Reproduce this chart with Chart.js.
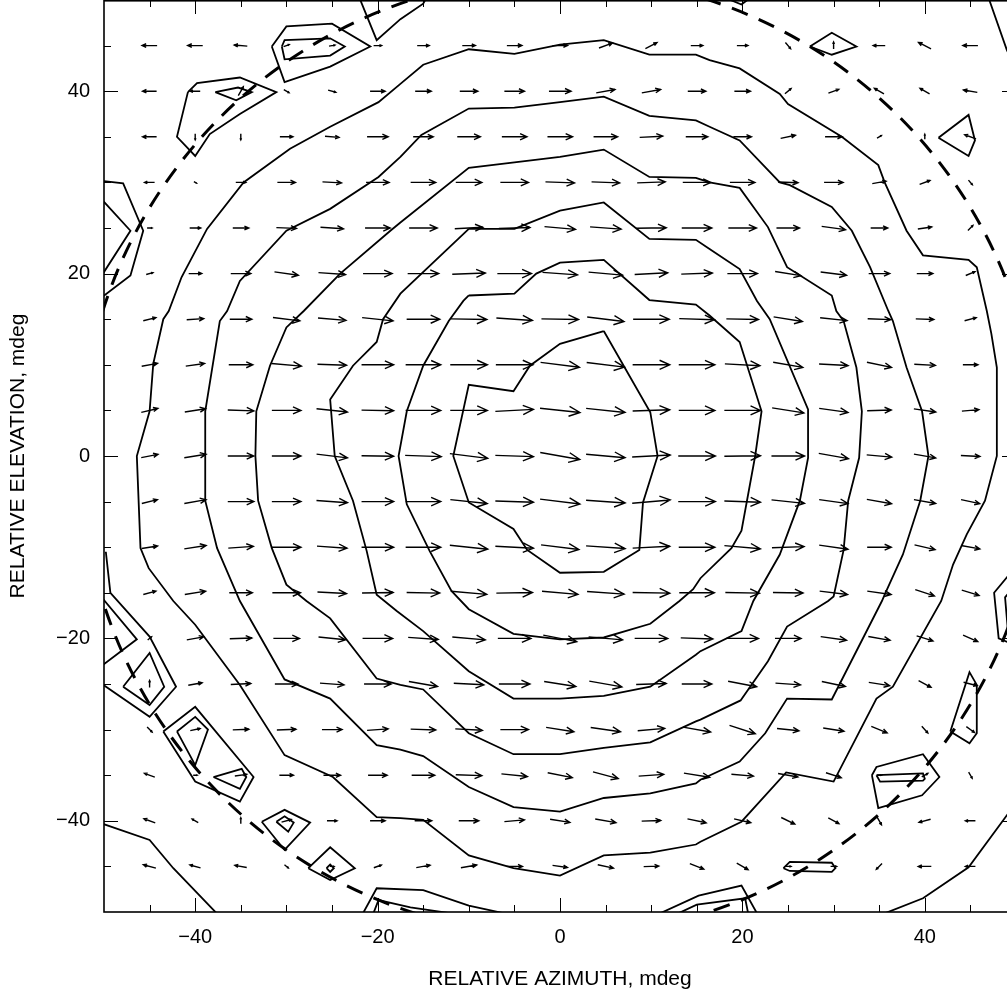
<!DOCTYPE html>
<html>
<head>
<meta charset="utf-8">
<script src="https://cdn.jsdelivr.net/npm/chart.js@4.4.0/dist/chart.umd.min.js"></script>
<style>
  html, body { margin: 0; padding: 0; background: #fff; overflow: hidden; }
  canvas { display: block; }
</style>
</head>
<body>
<canvas id="myChart" width="1016" height="991"></canvas>
<script>
// Axis tick labels and tick marks (mdeg)
var xTickLabels = [-40, -20, 0, 20, 40];
var yTickLabels = [-40, -20, 0, 20, 40];
var tickMarks = [-45, -40, -35, -30, -25, -20, -15, -10, -5, 0, 5, 10, 15, 20, 25, 30, 35, 40, 45];

// Arrow grid (azimuth columns, elevation rows from top to bottom)
var gridAz = [-45, -40, -35, -30, -25, -20, -15, -10, -5, 0, 5, 10, 15, 20, 25, 30, 35, 40, 45];
var gridEl = [45, 40, 35, 30, 25, 20, 15, 10, 5, 0, -5, -10, -15, -20, -25, -30, -35, -40, -45];

// Arrow magnitude (arbitrary units) for each row of gridEl
var arrowMag = [
  [15,15,13,6,6,8,12,13,15,15,14,13,12,11,8,7,12,14,15],
  [14,10,10,6,8,15,16,18,20,22,19,19,18,16,8,11,11,11,14],
  [14,6,6,13,14,21,20,23,25,25,24,23,22,18,15,17,5,5,12],
  [10,3,10,18,19,23,25,26,28,29,28,28,28,25,20,19,14,11,6],
  [5,11,16,20,23,25,28,28,31,31,31,30,30,28,23,24,17,14,7],
  [7,13,20,24,27,29,31,33,34,35,34,33,31,30,26,26,21,16,10],
  [13,17,22,27,28,31,33,36,36,37,37,36,35,32,29,27,23,18,12],
  [16,19,24,30,29,32,35,37,37,39,38,37,36,35,30,29,25,21,15],
  [17,21,26,29,31,32,35,37,38,40,39,37,36,36,32,29,24,22,17],
  [17,22,26,29,31,32,36,38,38,40,39,38,37,36,33,30,25,22,19],
  [16,22,26,29,31,32,35,37,38,40,39,38,37,36,33,29,25,22,19],
  [16,22,25,29,30,32,35,38,38,38,39,37,36,36,32,29,24,21,19],
  [13,21,23,28,29,31,33,36,36,36,37,37,35,34,30,28,24,20,18],
  [5,17,22,26,27,30,30,33,33,34,34,33,32,32,26,26,22,17,16],
  [7,14,20,23,24,27,29,30,31,32,33,30,30,29,25,24,21,14,14],
  [7,10,16,19,20,21,25,27,28,28,30,27,28,27,22,21,17,9,10],
  [11,4,12,14,17,19,23,26,26,25,26,25,26,22,20,16,4,7,7],
  [12,7,6,10,10,15,17,20,20,20,21,19,19,17,15,12,9,12,10],
  [13,11,12,5,4,8,14,16,16,15,16,15,15,13,6,6,8,13,10]
];

// Arrow direction (degrees, 0 = right, 90 = up) for each row of gridEl
var arrowDir = [
  [180,180,175,20,10,0,0,0,0,0,20,27,0,0,-50,90,180,153,180],
  [180,180,60,-30,-15,0,0,0,0,0,10,10,0,0,40,20,150,150,170],
  [180,-90,-90,0,-5,0,0,0,0,0,0,3,0,0,12,0,30,90,160],
  [180,-30,0,0,-3,0,0,0,0,-2,-2,2,0,0,-2,0,10,20,-50],
  [0,0,0,-2,-4,0,0,3,2,-5,-4,1,0,0,0,-8,0,8,45],
  [15,0,0,-8,-4,0,0,2,0,-4,-5,3,2,0,-9,-7,0,0,22],
  [14,4,0,-7,-5,-6,0,-1,-4,-1,-7,0,-2,-1,-9,-6,-2,-2,15],
  [10,8,0,-5,-2,0,0,0,0,-7,-7,0,0,-3,-10,-3,-12,-3,0],
  [13,9,-2,0,-6,-1,0,0,3,-6,-6,2,0,0,-9,-8,2,-8,5],
  [11,9,0,0,-7,-1,-2,-7,-2,-10,-5,3,0,1,0,-10,-5,-10,-3],
  [14,10,0,0,-4,0,0,-6,-2,-7,-4,5,0,-2,-6,-8,-10,-10,-12],
  [9,9,4,0,-4,0,0,-6,-3,-7,-4,3,0,-5,2,-8,0,-13,-10],
  [15,9,0,0,-3,1,-1,-5,1,-5,-4,-1,0,-1,-1,-7,-8,-18,-17],
  [40,10,2,0,-6,0,-4,-5,0,-11,-5,0,-2,0,0,-8,-10,-17,-24],
  [90,10,3,0,-4,0,-10,-3,0,-9,-10,2,0,-11,-4,-12,-9,-28,-14],
  [-45,12,2,2,0,4,-2,-3,0,-9,-8,5,-10,-18,-6,-9,-22,-48,-36],
  [160,0,8,0,0,0,0,-2,-6,-11,-15,4,-9,-5,-10,-18,0,30,-60],
  [160,150,90,15,0,0,0,0,5,-9,-10,2,-12,-13,-26,-28,-60,195,180],
  [165,165,170,-40,0,20,10,10,0,-8,-12,2,-22,-30,0,0,225,180,180]
];

// Main contour rings [azimuth, elevation]
var contour1 = [[4.8,13.7],[0,12.3],[-3.3,9.9],[-5.1,7.1],[-10,7.8],[-11.7,0],[-10,-5.1],[-5.1,-8],[-3.6,-10.3],[0,-12.8],[4.8,-12.7],[8.7,-10.3],[9.1,-5.1],[10.7,0],[9.9,4.8],[4.8,13.7]];
var contour2 = [[-10,17.6],[-5,17.8],[-2.6,20],[0,21.2],[4.8,21.5],[9.8,17.1],[14.9,16.6],[16.4,15.4],[19.7,12.5],[22.1,4.9],[21.4,0],[19.9,-8.2],[18.8,-10.1],[15.4,-13.4],[14.6,-14.6],[13.1,-15.9],[9.9,-18.4],[4.8,-19.9],[0,-20.1],[-5.1,-19.5],[-10,-16.8],[-11.9,-14.8],[-14.3,-10.4],[-16.8,-5.3],[-17.7,0],[-16.8,4.9],[-15,9.9],[-12.2,14.8],[-10.6,17],[-10,17.6]];
var contour3 = [[-10,24.9],[-5,24.9],[0,26.9],[4.8,27.8],[9.8,23.8],[14.9,23.7],[16.4,22.7],[19.7,20.5],[21.6,17],[23,15],[27.2,5.1],[27.2,-0.2],[26.3,-4.9],[24.1,-10.8],[21.2,-15.9],[19.9,-19.2],[15.4,-21.4],[14.9,-21.8],[9.9,-25.3],[4.8,-26.3],[0,-26.6],[-5.1,-26.6],[-10,-23.6],[-15,-19.2],[-17.9,-17],[-20.1,-15.2],[-21.2,-10.4],[-22.7,-4.9],[-24.7,0],[-25.2,6.2],[-22.7,9.9],[-20.1,12.5],[-19.4,15],[-17.5,17.8],[-10,24.9]];
var contour4 = [[-17.5,25.6],[-10,31.6],[-5,32.2],[0,32.8],[4.8,33.6],[9.8,30.6],[14.9,30.5],[16.4,30],[19.7,29.4],[22.8,25.1],[24.9,20.7],[29.8,17.6],[30.3,15.9],[31.1,14.8],[32.5,9.7],[33.1,4.9],[32.8,-0.2],[31.6,-4.9],[31.1,-10.3],[30,-15.4],[29.4,-15.9],[24.9,-18.7],[22.8,-22.5],[19.8,-26.8],[15.4,-28.9],[14.9,-29.1],[9.9,-31.4],[4.8,-32],[0,-32.7],[-5.1,-32.7],[-10,-30.4],[-15,-25.6],[-17.5,-25.1],[-20.1,-24.4],[-25.2,-17.8],[-27.8,-15.9],[-30,-14.1],[-31.6,-10.1],[-33.1,-4.9],[-33.4,0],[-33.3,4.9],[-31.8,9.9],[-30,14.1],[-28.1,15.9],[-24.1,20],[-18.6,24.7],[-17.5,25.6]];
var contour5 = [[-17.5,32.8],[-15.2,35.2],[-10,38.1],[-5,38.2],[0,38.8],[4.8,39.4],[9.8,37.3],[14.9,36.8],[16.4,36.1],[19.7,34.6],[24.1,30],[25.2,29.7],[29.8,27.3],[32,24.7],[34,20.7],[36,15.9],[36.5,14.8],[38,9.7],[39.7,4.9],[40.4,0],[39.5,-4.9],[37.6,-10.8],[35.6,-15.2],[35.3,-15.9],[29.8,-26.7],[24.9,-26.6],[22.5,-30.4],[19.7,-33.5],[15.4,-35.5],[14.9,-35.9],[9.9,-37],[4.8,-37.5],[0,-39],[-5.1,-38.5],[-10,-36.3],[-15,-32.9],[-17.5,-32.2],[-20.1,-31.7],[-25.2,-26.6],[-30.2,-24.5],[-35.1,-15.9],[-37.6,-10.1],[-38.9,-4.9],[-38.9,4.9],[-37.3,14.8],[-36.5,15.9],[-35.1,19.2],[-30,24.7],[-25.2,27.1],[-19.9,30.6],[-17.5,32.8]];
var contour6 = [[-17.5,40.8],[-15,42.9],[-10,44.6],[-5,44.1],[0,45.1],[4.8,45.6],[9.8,44],[14.9,44],[16.4,43.4],[19.7,42.5],[24.1,39.7],[25,38.6],[30.9,35],[34.9,31.9],[35.6,30],[38,24.7],[39.8,22],[44.8,21.5],[45.7,20.7],[46.8,15.9],[47.3,13.4],[47.9,9.7],[47.9,0],[46.6,-4.9],[44.6,-8.6],[43.1,-11.9],[41.8,-15.9],[36.5,-25.3],[34.7,-26.6],[30,-35.7],[24.8,-34.7],[19.9,-40.1],[15.4,-42.3],[14.9,-42.6],[9.9,-43.5],[4.8,-43.8],[0,-46],[-5.1,-45.2],[-10,-43.8],[-15,-39.9],[-17.5,-39.7],[-20.1,-39.6],[-24.9,-35.2],[-30.2,-32.8],[-35.1,-25.1],[-40,-18.5],[-42.4,-15.9],[-45.1,-12.3],[-46,-10.1],[-46.4,0],[-45,4.9],[-44.6,10.1],[-43.5,15],[-42.9,15.9],[-41.5,19.6],[-38.7,24.9],[-34.7,30],[-29.6,33.7],[-25.2,36.1],[-19.9,38.8],[-17.5,40.8]];

// Outer contour pieces and small islands near the edge of the beam
var outerTopLeft = [[-22.1,50.5],[-20.1,45.6],[-17.5,47.9],[-15,49.6],[-14.5,50.5]];
var outerTopRight = [[46.9,50.5],[49,44.5],[50.5,41.5]];
var outerBottomRight = [[34.7,-50.5],[39.8,-48.5],[44.8,-45.1],[49,-39.4],[50.5,-37.5]];
var outerBottomLeft = [[-50.5,-40.2],[-45,-42.1],[-42.4,-45.2],[-37.3,-50.5]];
var islandA = [[-31.6,44.9],[-30,47.1],[-25,47.4],[-20.8,44.9],[-25.2,42.7],[-30.2,41],[-31.6,44.9]];
var islandAin = [[-30.5,44.9],[-30.2,45.6],[-25.2,45.8],[-23.6,44.9],[-25.2,43.9],[-30.2,43.5],[-30.5,44.9]];
var islandB = [[-40.8,39.9],[-39.8,40.9],[-35.1,41.5],[-31.1,39.9],[-35.1,37.5],[-38.4,35.3],[-40,32.9],[-42,35],[-40.8,39.9]];
var islandBin = [[-37.8,39.9],[-35.3,40.4],[-33.8,39.9],[-35.5,39],[-37.8,39.9]];
var islandC = [[-50.5,30.2],[-47.9,29.9],[-45.7,24.7],[-47.1,19.8],[-50.5,17.2]];
var islandCin = [[-50.5,28.4],[-47.1,24.7],[-50.5,19.4]];
var islandD = [[27.4,44.9],[29.8,46.4],[32.5,44.9],[29.8,44],[27.4,44.9]];
var islandE = [[41.5,34.9],[44.8,37.4],[45.5,34.6],[44.8,32.9],[41.5,34.9]];
var islandF = [[17.5,50.5],[19.9,49.5],[21.2,50.5]];
var islandG = [[-49.8,-10.5],[-49.3,-15],[-45,-19.8],[-42.1,-25.3],[-45,-28.6],[-50.5,-24.8]];
var islandGin = [[-50.5,-15.2],[-46.4,-20.1],[-50.5,-23.2]];
var islandGin2 = [[-47.9,-25.3],[-45,-21.6],[-43.4,-25.3],[-45,-27.3],[-47.9,-25.3]];
var islandH = [[-43.5,-30.2],[-40,-27.5],[-33.6,-35.2],[-35.1,-37.9],[-40,-35.7],[-43.5,-30.2]];
var islandHin = [[-42,-30.2],[-40,-28.6],[-38.6,-30],[-40,-33.9],[-42,-30.2]];
var islandHin2 = [[-38,-35.2],[-34.9,-34.3],[-34.4,-35.2],[-35.1,-36.5],[-38,-35.2]];
var islandI = [[-32.7,-40.1],[-30.2,-38.8],[-27.4,-40.2],[-30.2,-43.2],[-32.7,-40.1]];
var islandIin = [[-31.1,-40.1],[-30.2,-39.5],[-29.2,-40.2],[-29.8,-41.2],[-31.1,-40.1]];
var islandJ = [[-27.6,-45.2],[-25.2,-42.9],[-22.5,-45.2],[-25.2,-46.5],[-27.6,-45.2]];
var islandJin = [[-25.6,-45.2],[-25.2,-44.8],[-24.8,-45.2],[-25.2,-45.6],[-25.6,-45.2]];
var islandK = [[-21.8,-50.5],[-20.1,-47.4],[-15,-47.6],[-10,-49.3],[-4.5,-50.5]];
var islandKin = [[-20.6,-50.5],[-19.9,-48.7],[-16.4,-49.5],[-9.5,-50.5]];
var islandL = [[10.2,-50.5],[15.2,-48.2],[19.9,-47.1],[21.8,-50.5]];
var islandLin = [[12.2,-50.5],[15,-49.2],[20.3,-48.5],[20.7,-50.5]];
var islandM = [[42.8,-30.2],[44.9,-23.7],[45.7,-25.1],[45.7,-30.4],[44.9,-31.5],[42.8,-30.2]];
var islandN = [[34.2,-35],[34.7,-34.1],[39.8,-32.7],[41.6,-35.2],[39.7,-37.2],[34.9,-38.6],[34.2,-35]];
var islandNin = [[34.7,-35],[39.8,-34.8],[40,-35.4],[39.8,-35.6],[35.1,-35.7],[34.7,-35]];
var islandO = [[24.5,-45.2],[25.2,-44.5],[29.8,-44.6],[30.2,-45.2],[29.8,-45.6],[25.2,-45.5],[24.5,-45.2]];
var islandP = [[50.5,-11.5],[47.6,-15],[48.1,-20],[50.5,-21]];
var islandPin = [[50.5,-13.5],[48.8,-15.5],[49.1,-19],[50.5,-19.5]];

// Dashed reference circle (center and radius in mdeg)
var circleCenter = [0, 0];
var circleRadius = 52.6;

var allContours = [contour1, contour2, contour3, contour4, contour5, contour6,
  outerTopLeft, outerTopRight, outerBottomRight, outerBottomLeft,
  islandA, islandAin, islandB, islandBin, islandC, islandCin, islandD, islandE, islandF,
  islandG, islandGin, islandGin2, islandH, islandHin, islandHin2, islandI, islandIin,
  islandJ, islandJin, islandK, islandKin, islandL, islandLin, islandM, islandN, islandNin,
  islandO, islandP, islandPin];

var quiverScale = 0.11; // mdeg of arrow per magnitude unit

var ctx = document.getElementById('myChart').getContext('2d');

// Draws arrows, dashed circle, the frame and inward tick marks
const overlayPlugin = {
  id: 'overlayPlugin',
  afterDatasetsDraw(chart) {
    const ctx = chart.ctx;
    const xs = chart.scales.x, ys = chart.scales.y;
    const a = chart.chartArea;
    ctx.save();
    ctx.beginPath();
    ctx.rect(a.left, a.top, a.right - a.left, a.bottom - a.top);
    ctx.clip();

    // quiver arrows centred on grid points
    ctx.strokeStyle = '#000';
    ctx.lineWidth = 1.4;
    ctx.lineCap = 'butt';
    gridEl.forEach(function(el, i) {
      gridAz.forEach(function(az, j) {
        const m = arrowMag[i][j] * quiverScale;
        const t = arrowDir[i][j] * Math.PI / 180;
        const u = m * Math.cos(t), v = m * Math.sin(t);
        const x0 = xs.getPixelForValue(az - u / 2), y0 = ys.getPixelForValue(el - v / 2);
        const x1 = xs.getPixelForValue(az + u / 2), y1 = ys.getPixelForValue(el + v / 2);
        const ang = Math.atan2(y1 - y0, x1 - x0);
        const h = Math.hypot(x1 - x0, y1 - y0) * 0.3;
        ctx.beginPath();
        ctx.moveTo(x0, y0);
        ctx.lineTo(x1, y1);
        ctx.moveTo(x1 - h * Math.cos(ang - 0.42), y1 - h * Math.sin(ang - 0.42));
        ctx.lineTo(x1, y1);
        ctx.lineTo(x1 - h * Math.cos(ang + 0.42), y1 - h * Math.sin(ang + 0.42));
        ctx.stroke();
      });
    });

    // dashed circle
    const cx = xs.getPixelForValue(circleCenter[0]);
    const cy = ys.getPixelForValue(circleCenter[1]);
    const rx = Math.abs(xs.getPixelForValue(circleCenter[0] + circleRadius) - cx);
    const ry = Math.abs(ys.getPixelForValue(circleCenter[1] + circleRadius) - cy);
    ctx.setLineDash([17, 12]);
    ctx.lineWidth = 3;
    ctx.beginPath();
    ctx.ellipse(cx, cy, rx, ry, 0, 0, 2 * Math.PI);
    ctx.stroke();
    ctx.restore();

    // frame
    ctx.save();
    ctx.strokeStyle = '#000';
    ctx.lineWidth = 1.6;
    ctx.strokeRect(a.left, a.top + 0.8, a.right - a.left, a.bottom - a.top - 0.8);

    // inward ticks on all four sides
    ctx.lineWidth = 1;
    ctx.beginPath();
    tickMarks.forEach(function(v) {
      const px = Math.round(xs.getPixelForValue(v)) + 0.5;
      const py = Math.round(ys.getPixelForValue(v)) + 0.5;
      const lx = xTickLabels.indexOf(v) >= 0 ? 14 : 7;
      const ly = yTickLabels.indexOf(v) >= 0 ? 14 : 7;
      ctx.moveTo(px, a.bottom); ctx.lineTo(px, a.bottom - lx);
      ctx.moveTo(px, a.top); ctx.lineTo(px, a.top + lx);
      ctx.moveTo(a.left, py); ctx.lineTo(a.left + ly, py);
      ctx.moveTo(a.right, py); ctx.lineTo(a.right - ly, py);
    });
    ctx.stroke();
    ctx.restore();
  }
};

Chart.register(overlayPlugin);

var tickFont = { family: "'Liberation Sans', Arial, sans-serif", size: 20 };
var titleFont = { family: "'Liberation Sans', Arial, sans-serif", size: 21, lineHeight: 1 };

var myChart = new Chart(ctx, {
  type: 'scatter',
  data: {
    datasets: allContours.map(function(c) {
      return {
        data: c.map(function(p) { return { x: p[0], y: p[1] }; }),
        showLine: true,
        borderColor: '#000',
        borderWidth: 1.8,
        pointRadius: 0,
        fill: false,
        tension: 0,
        clip: 0
      };
    })
  },
  options: {
    responsive: false,
    animation: false,
    events: [],
    layout: { padding: 0 },
    plugins: {
      legend: { display: false },
      tooltip: { enabled: false }
    },
    scales: {
      x: {
        type: 'linear',
        position: 'bottom',
        min: -50,
        max: 50,
        afterFit: function(scale) {
          scale.height = 79;
          scale.paddingLeft = 0;
          scale.paddingRight = 0;
        },
        afterBuildTicks: function(scale) {
          scale.ticks = xTickLabels.map(function(v) { return { value: v }; });
        },
        ticks: {
          font: tickFont,
          color: '#000',
          padding: 13,
          maxRotation: 0,
          callback: function(v) { return v < 0 ? '\u2212' + Math.abs(v) : String(v); }
        },
        grid: { display: false, drawTicks: false },
        border: { display: false },
        title: {
          display: true,
          text: 'RELATIVE AZIMUTH, mdeg',
          font: titleFont,
          color: '#000',
          padding: { top: 0, bottom: 1 }
        }
      },
      y: {
        type: 'linear',
        position: 'left',
        min: -50,
        max: 50,
        afterFit: function(scale) {
          scale.width = 104;
          scale.paddingTop = 0;
          scale.paddingBottom = 0;
        },
        afterBuildTicks: function(scale) {
          scale.ticks = yTickLabels.map(function(v) { return { value: v }; });
        },
        ticks: {
          font: tickFont,
          color: '#000',
          padding: 14,
          callback: function(v) { return v < 0 ? '\u2212' + Math.abs(v) : String(v); }
        },
        grid: { display: false, drawTicks: false },
        border: { display: false },
        title: {
          display: true,
          text: 'RELATIVE ELEVATION, mdeg',
          font: titleFont,
          color: '#000',
          padding: { top: 8, bottom: 0 }
        }
      }
    }
  }
});
</script>
</body>
</html>
